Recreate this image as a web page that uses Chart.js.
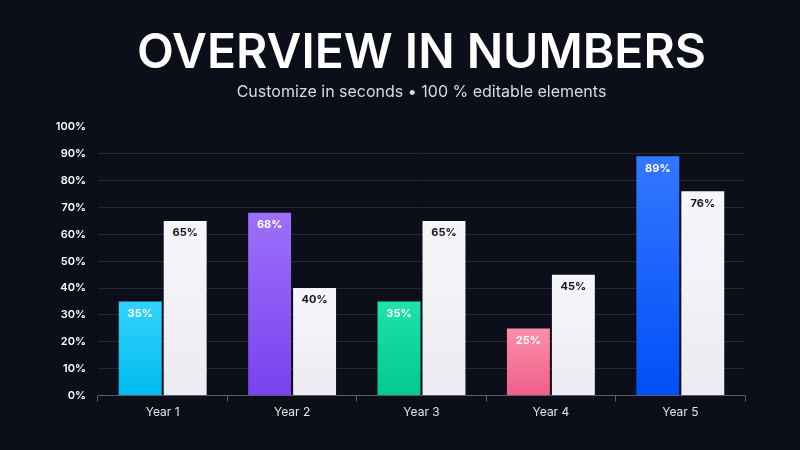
<!DOCTYPE html>
<html><head><meta charset="utf-8">
<style>html,body{margin:0;padding:0;background:#0c0e19;overflow:hidden}#wrap{width:800px;height:450px}</style>
<script src="https://cdn.jsdelivr.net/npm/chart.js@4.4.1/dist/chart.umd.min.js"></script>
</head><body><div id="wrap"><canvas id="c" width="800" height="450"></canvas></div>
<script>
const categories = ['Year 1', 'Year 2', 'Year 3', 'Year 4', 'Year 5'];
const highlightValues = [35, 68, 35, 25, 89];
const baseValues = [65, 40, 65, 45, 76];
const yTickValues = [0, 10, 20, 30, 40, 50, 60, 70, 80, 90, 100];
const titleText = 'OVERVIEW IN NUMBERS';
const subtitleText = 'Customize in seconds • 100 % editable elements';
const highlightColors = [
  ['#33d2fc', '#00bdf0'],
  ['#9d70fa', '#7842ee'],
  ['#1fe2ad', '#00c98e'],
  ['#ff8eab', '#ef5f89'],
  ['#3476ff', '#0050f7']
];
const baseColors = ['#f6f6fa', '#ebebf1'];

function barGradient(ctx, values, colorFor) {
  const chart = ctx.chart;
  const area = chart.chartArea;
  if (!area) return colorFor(ctx.dataIndex)[1];
  const y = chart.scales.y;
  const v = values[ctx.dataIndex];
  const top = y.getPixelForValue(v);
  const bottom = y.getPixelForValue(0);
  const c = colorFor(ctx.dataIndex);
  const g = chart.ctx.createLinearGradient(0, top, 0, bottom);
  g.addColorStop(0, c[0]);
  g.addColorStop(1, c[1]);
  return g;
}

const valueLabels = {
  id: 'valueLabels',
  afterDatasetsDraw(chart) {
    const ctx = chart.ctx;
    ctx.save();
    ctx.font = '700 11px Inter';
    ctx.textAlign = 'center';
    ctx.textBaseline = 'middle';
    chart.data.datasets.forEach((ds, di) => {
      const meta = chart.getDatasetMeta(di);
      meta.data.forEach((el, i) => {
        ctx.fillStyle = di === 0 ? '#ffffff' : '#15161f';
        ctx.fillText(ds.data[i] + '%', el.x, el.y + 12);
      });
    });
    ctx.restore();
  }
};

new Chart(document.getElementById('c'), {
  type: 'bar',
  data: {
    labels: categories,
    datasets: [
      {
        data: highlightValues,
        backgroundColor: (ctx) => barGradient(ctx, highlightValues, (i) => highlightColors[i]),
        borderWidth: 0,
        categoryPercentage: 0.695,
        barPercentage: 0.955
      },
      {
        data: baseValues,
        backgroundColor: (ctx) => barGradient(ctx, baseValues, () => baseColors),
        borderWidth: 0,
        categoryPercentage: 0.695,
        barPercentage: 0.955
      }
    ]
  },
  options: {
    responsive: false,
    animation: false,
    devicePixelRatio: 1,
    layout: { padding: { left: 0, right: 55, bottom: 26, top: 0 } },
    plugins: {
      legend: { display: false },
      tooltip: { enabled: false },
      title: {
        display: true, text: titleText, color: '#ffffff', fullSize: false,
        font: { family: 'Inter', size: 48, weight: '600' },
        padding: { top: 25, bottom: 0 }
      },
      subtitle: {
        display: true, text: subtitleText, color: '#d9dbe4', fullSize: false,
        font: { family: 'Inter', size: 16, weight: '400' },
        padding: { top: 0, bottom: 25 }
      }
    },
    scales: {
      x: {
        grid: { display: true, drawOnChartArea: false, drawTicks: true, tickLength: 6, color: '#5a5c68', offset: true },
        border: { display: true, color: '#5a5c68', width: 1 },
        ticks: { color: '#e4e5ea', font: { family: 'Inter', size: 12 }, padding: 4 }
      },
      y: {
        min: 0, max: 100,
        afterFit(scale) { scale.width = 98; },
        afterBuildTicks(scale) { scale.ticks = yTickValues.map(v => ({ value: v })); },
        grid: {
          drawTicks: false,
          color: (c) => (c.tick && (c.tick.value === 100 || c.tick.value === 0)) ? 'rgba(0,0,0,0)' : '#262835',
          lineWidth: 1
        },
        border: { display: false },
        ticks: {
          color: '#ffffff', padding: 12,
          font: { family: 'Inter', size: 11, weight: '600' },
          callback: (v) => v + '%'
        }
      }
    }
  },
  plugins: [valueLabels]
});
</script>
</body></html>
